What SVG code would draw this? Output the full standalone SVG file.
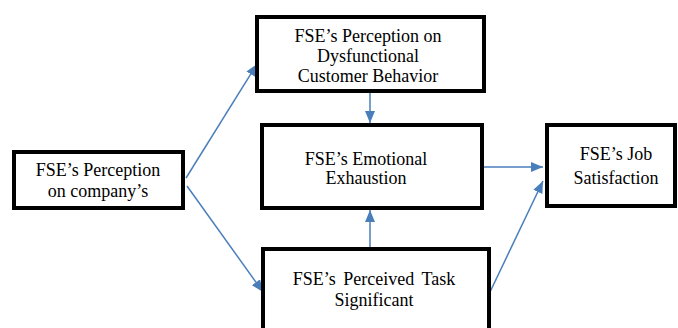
<svg xmlns="http://www.w3.org/2000/svg" width="678" height="328" viewBox="0 0 678 328">
<defs>
<marker id="ah" markerUnits="userSpaceOnUse" markerWidth="12" markerHeight="10" refX="12" refY="5" orient="auto">
<path d="M0,0 L12,5 L0,10 Z" fill="#4a7ebb"/>
</marker>
<style>
.box{fill:#fff;stroke:#000;stroke-width:4}
.t{font-family:'Liberation Serif','Times New Roman',serif;font-size:18px;fill:#000;text-anchor:middle}
.c{stroke:#4a7ebb;stroke-width:1.5;fill:none;marker-end:url(#ah)}
</style>
</defs>
<rect width="678" height="328" fill="#fff"/>
<g id="connectors">
<line class="c" x1="186" y1="178" x2="257" y2="64"/>
<line class="c" x1="187" y1="186" x2="263" y2="292"/>
<line class="c" x1="370" y1="93" x2="370" y2="123"/>
<line class="c" x1="370" y1="247" x2="370" y2="210"/>
<line class="c" x1="484" y1="167" x2="543" y2="167"/>
<line class="c" x1="490" y1="292" x2="543" y2="181"/>
</g>
<g id="node-dysfunctional">
<rect class="box" x="257" y="17" width="227" height="74"/>
<text class="t" x="368" y="42">FSE’s Perception on</text>
<text class="t" x="368" y="62">Dysfunctional</text>
<text class="t" x="368" y="82">Customer Behavior</text>
</g>
<g id="node-emotional">
<rect class="box" x="262" y="125" width="220" height="83"/>
<text class="t" x="366" y="165">FSE’s Emotional</text>
<text class="t" x="366" y="184">Exhaustion</text>
</g>
<g id="node-company">
<rect class="box" x="14" y="152" width="169" height="56"/>
<text class="t" x="98" y="176">FSE’s Perception</text>
<text class="t" x="98" y="197">on company’s</text>
</g>
<g id="node-task">
<rect class="box" x="263" y="249" width="226" height="92"/>
<text class="t" x="374" y="285" word-spacing="3">FSE’s Perceived Task</text>
<text class="t" x="374" y="306">Significant</text>
</g>
<g id="node-job">
<rect class="box" x="547" y="125" width="128" height="81"/>
<text class="t" x="616" y="160">FSE’s Job</text>
<text class="t" x="616" y="184">Satisfaction</text>
</g>
</svg>
